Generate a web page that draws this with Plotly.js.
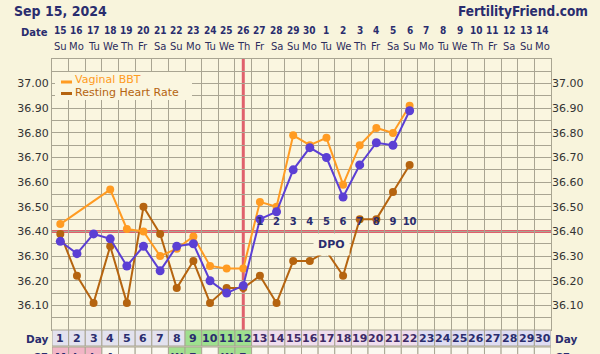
<!DOCTYPE html>
<html><head><meta charset="utf-8">
<script src="https://cdn.plot.ly/plotly-3.0.1.min.js"></script>
<style>html,body{margin:0;padding:0;background:#f8f4dc;overflow:hidden;}</style>
</head><body><div id="chart" style="width:600px;height:354px;"></div>
<script>
// ---- data ----
const days = [1,2,3,4,5,6,7,8,9,10,11,12,13,14,15,16,17,18,19,20,21,22,23,24,25,26,27,28,29,30];
const dates = [15,16,17,18,19,20,21,22,23,24,25,26,27,28,29,30,1,2,3,4,5,6,7,8,9,10,11,12,13,14];
const weekdays = ['Su','Mo','Tu','We','Th','Fr','Sa','Su','Mo','Tu','We','Th','Fr','Sa','Su','Mo','Tu','We','Th','Fr','Sa','Su','Mo','Tu','We','Th','Fr','Sa','Su','Mo'];
const vaginalBBT = [36.43,null,null,36.57,36.41,36.40,36.30,36.33,36.38,36.26,36.25,36.25,36.52,36.50,36.79,36.75,36.78,36.59,36.75,36.82,36.80,36.91];
const bbt = [36.36,36.31,36.39,36.37,36.26,36.34,36.24,36.34,36.35,36.20,36.15,36.18,36.45,36.48,36.65,36.74,36.70,36.54,36.67,36.76,36.75,36.89];
const restingHR = [36.39,36.22,36.11,36.34,36.11,36.50,36.39,36.17,36.28,36.11,36.17,36.17,36.22,36.11,36.28,36.28,36.32,36.22,36.45,36.45,36.56,36.67];
const dpoDays = [13,14,15,16,17,18,19,20,21,22];
const dpoLabels = ['1','2','3','4','5','6','7','8','9','10'];
const cfCodes = ['M','L','L','A','','','','W','E','','W','E','','','','','','','','','','','','','','','','','',''];
const yTicks = [36.1,36.2,36.3,36.4,36.5,36.6,36.7,36.8,36.9,37.0];
const coverline = 36.40;
const ovulationDay = 12;
const series1Name = 'Vaginal BBT';
const series2Name = 'Resting Heart Rate';

// ---- style ----
const NAVY = '#2a2d6e';
const GRID = '#a9a592';
const ORANGE = '#ff9b22';
const BROWN = '#b5640f';
const PURPLE = '#5b3fd4';
const RED = '#e0606c';
const PLOTBG = '#faf6e0';
const BASE = 'DejaVu Sans, Verdana, sans-serif';
const COND = 'DejaVu Sans Condensed, DejaVu Sans, sans-serif';

// pixel helpers for paper coords (plot area: x 52..551, y 59..330)
const L = 52, R = 551, T = 59, B = 330;
const px = v => (v - L) / (R - L);
const py = v => (B - v) / (B - T);

const dayXs = days.slice(0, bbt.length);

const traces = [
  {x: dayXs, y: restingHR, name: series2Name, mode: 'lines+markers', line: {color: BROWN, width: 2}, marker: {color: BROWN, size: 8}, showlegend: false, hoverinfo: 'x+y'},
  {x: dayXs, y: vaginalBBT, name: series1Name, mode: 'lines+markers', connectgaps: true, line: {color: ORANGE, width: 2}, marker: {color: ORANGE, size: 8}, showlegend: false, hoverinfo: 'x+y'},
  {x: dayXs, y: bbt, name: 'BBT', mode: 'lines+markers', line: {color: PURPLE, width: 2}, marker: {color: PURPLE, size: 9}, showlegend: false, hoverinfo: 'x+y'},
  {x: dpoDays, y: dpoDays.map(() => 36.435), text: dpoLabels, mode: 'text', textfont: {family: BASE, size: 10, color: NAVY, weight: 'bold'}, showlegend: false, hoverinfo: 'skip'},
  {x: [null], y: [null], yaxis: 'y2', showlegend: false, hoverinfo: 'skip'}
];

const shapes = [];
const annotations = [];
function ann(o) { annotations.push(Object.assign({showarrow: false, xanchor: 'center', yanchor: 'middle'}, o)); }

// legend box
shapes.push({type: 'rect', xref: 'paper', yref: 'paper', x0: px(55), x1: px(192), y0: py(100), y1: py(72), fillcolor: PLOTBG, line: {width: 0}, layer: 'above'});
shapes.push({type: 'line', xref: 'paper', yref: 'paper', x0: px(61), x1: px(72), y0: py(82), y1: py(82), line: {color: ORANGE, width: 3}, layer: 'above'});
shapes.push({type: 'line', xref: 'paper', yref: 'paper', x0: px(61), x1: px(72), y0: py(93.5), y1: py(93.5), line: {color: BROWN, width: 3}, layer: 'above'});
ann({xref: 'paper', yref: 'paper', x: px(73), y: py(80), xanchor: 'left', text: series1Name, font: {family: BASE, size: 11, color: ORANGE}});
ann({xref: 'paper', yref: 'paper', x: px(73), y: py(92), xanchor: 'left', text: series2Name, font: {family: BASE, size: 11, color: BROWN}});

// coverline & ovulation line
shapes.push({type: 'line', xref: 'paper', yref: 'y', x0: 0, x1: 1, y0: coverline, y1: coverline, line: {color: RED, width: 3}, layer: 'below'});
shapes.push({type: 'line', xref: 'x', yref: 'paper', x0: ovulationDay, x1: ovulationDay, y0: 0, y1: 1, line: {color: RED, width: 3}, layer: 'below'});

// day row cells & labels
function phaseColor(d) {
  if (d <= 8) return '#e3e2ee';
  if (d <= 12) return '#9fe08f';
  if (d <= 22) return '#efdded';
  return '#dedcf2';
}
function cfColor(c) {
  if (c === 'M' || c === 'L') return '#f2b5c6';
  if (c === 'W' || c === 'E') return '#a3e08f';
  return '#fbf9f0';
}
days.forEach((d, i) => {
  shapes.push({type: 'rect', xref: 'x', yref: 'paper', x0: d - 0.5, x1: d + 0.5, y0: py(330), y1: py(346), fillcolor: phaseColor(d), line: {color: GRID, width: 1}, layer: 'above'});
  shapes.push({type: 'rect', xref: 'x', yref: 'paper', x0: d - 0.5, x1: d + 0.5, y0: py(347), y1: py(366), fillcolor: cfColor(cfCodes[i]), line: {color: GRID, width: 1}, layer: 'above'});
  ann({xref: 'x', yref: 'paper', x: d, y: py(338.5), text: '<b>' + d + '</b>', font: {family: BASE, size: 11, color: (d >= 13 && d <= 22) ? '#3e2a66' : NAVY}});
  if (cfCodes[i]) ann({xref: 'x', yref: 'paper', x: d, y: py(357), text: '<b>' + cfCodes[i] + '</b>', font: {family: BASE, size: 11, color: NAVY}});
  ann({xref: 'x', yref: 'paper', x: d, y: py(30.5), text: '<b>' + dates[i] + '</b>', font: {family: COND, size: 10, color: NAVY}});
  ann({xref: 'x', yref: 'paper', x: d, y: py(46), text: weekdays[i], font: {family: BASE, size: 10, color: '#2d2d5c'}});
});
ann({xref: 'paper', yref: 'paper', x: px(50), y: py(338.5), xanchor: 'right', text: '<b>Day</b>', font: {family: BASE, size: 10.5, color: NAVY}});
ann({xref: 'paper', yref: 'paper', x: px(553), y: py(338.5), xanchor: 'left', text: '<b>Day</b>', font: {family: BASE, size: 10.5, color: NAVY}});
ann({xref: 'paper', yref: 'paper', x: px(50), y: py(357), xanchor: 'right', text: '<b>CF</b>', font: {family: BASE, size: 10.5, color: NAVY}});
ann({xref: 'paper', yref: 'paper', x: px(553), y: py(357), xanchor: 'left', text: '<b>CF</b>', font: {family: BASE, size: 10.5, color: NAVY}});
ann({xref: 'paper', yref: 'paper', x: px(50), y: py(33), xanchor: 'right', text: '<b>Date</b>', font: {family: BASE, size: 10, color: NAVY}});
ann({xref: 'paper', yref: 'paper', x: px(12), y: py(11), xanchor: 'left', text: '<b>Sep 15, 2024</b>', font: {family: COND, size: 14, color: NAVY}});
ann({xref: 'paper', yref: 'paper', x: px(590), y: py(11), xanchor: 'right', text: '<b>FertilityFriend.com</b>', font: {family: COND, size: 13.5, color: NAVY}});
// DPO label
ann({xref: 'x', yref: 'y', x: 17.3, y: 36.346, text: '<b>DPO</b>', bgcolor: PLOTBG, borderpad: 4, font: {family: BASE, size: 11, color: NAVY}});

const minorVals = [];
for (let v = 36.05; v < 37.1; v += 0.1) minorVals.push(+v.toFixed(2));

const yCommon = {
  range: [36.0, 37.1], tickmode: 'array', tickvals: yTicks, tickformat: '.2f',
  tickfont: {family: BASE, size: 11, color: '#333333'}, zeroline: false, fixedrange: true
};

const layout = {
  width: 600, height: 354,
  margin: {l: L, r: 600 - R, t: T, b: 354 - B},
  paper_bgcolor: '#f8f4dc', plot_bgcolor: PLOTBG,
  showlegend: false,
  xaxis: {range: [0.5, 30.5], tickmode: 'linear', tick0: 0.5, dtick: 1, showticklabels: false, ticks: '',
          showgrid: true, gridcolor: GRID, gridwidth: 1, zeroline: false, showline: true, mirror: true, linecolor: GRID, linewidth: 1},
  yaxis: Object.assign({}, yCommon, {showgrid: true, gridcolor: GRID, gridwidth: 1, ticks: 'inside', ticklen: 5, tickcolor: GRID,
          showline: true, mirror: true, linecolor: GRID, linewidth: 1,
          minor: {tickmode: 'array', tickvals: minorVals, showgrid: true, gridcolor: GRID, gridwidth: 1, ticks: ''}}),
  yaxis2: Object.assign({}, yCommon, {overlaying: 'y', side: 'right', showgrid: false, ticks: 'inside', ticklen: 5, tickcolor: GRID}),
  shapes: shapes,
  annotations: annotations,
  hovermode: 'closest'
};

Plotly.newPlot('chart', traces, layout, {displayModeBar: false, staticPlot: true});
</script>
</body></html>
